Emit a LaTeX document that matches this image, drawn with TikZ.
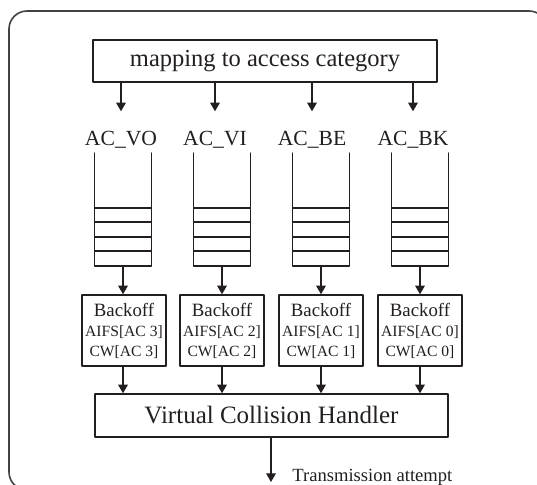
\documentclass[tikz,border=0pt]{standalone}
\usepackage{fontspec}
\setmainfont{Liberation Serif}
\usetikzlibrary{arrows.meta}
\definecolor{ink}{RGB}{35,31,32}
\tikzset{
	box/.style={draw=ink,line width=0.7pt,inner sep=0pt,text=ink},
	lbl/.style={inner sep=0pt,text=ink,font=\fontsize{10.8}{12}\selectfont},
	bobox/.style={box,minimum width=42pt,minimum height=35.5pt,align=center,font=\fontsize{7.8}{10}\selectfont},
	flow/.style={->,draw=ink,line width=0.6pt},
	queue/.style={draw=ink,line width=0.65pt}
}
\newcommand{\bohead}{{\fontsize{9.4}{10}\selectfont Backoff}}
\begin{document}
\begin{tikzpicture}[line cap=round,line join=round,>={Triangle[width=4.8pt,length=4.3pt]},x=0.5pt,y=-0.5pt]
				\useasboundingbox (0,0) rectangle (537,485);
				\clip (0,0) rectangle (537,485);
				\draw [ink!85,line width=0.8pt,rounded corners=9pt] (9,11) rectangle (547,490);
				\node[box,minimum width=172pt,minimum height=21pt,font=\fontsize{12.25}{14}\selectfont] (map) at (265,61) {mapping to access category};
				\node[lbl,anchor=base] (vo) at (121,146) {AC\_VO};
				\node[lbl,anchor=base] (vi) at (215,146) {AC\_VI};
				\node[lbl,anchor=base] (be) at (312,146) {AC\_BE};
				\node[lbl,anchor=base] (bk) at (413,146) {AC\_BK};
				\draw [flow,shorten >=10pt] (map.south -| vo.north) -- (vo.north);
				\draw [flow,shorten >=10pt] (map.south -| vi.north) -- (vi.north);
				\draw [flow,shorten >=10pt] (map.south -| be.north) -- (be.north);
				\draw [flow,shorten >=10pt] (map.south -| bk.north) -- (bk.north);
				\draw [queue] (94.5,153) -- (94.5,266) -- (151.5,266) -- (151.5,153);
				\draw [queue] (94.5,208) -- (151.5,208) (94.5,222) -- (151.5,222) (94.5,237) -- (151.5,237) (94.5,251) -- (151.5,251);
				\draw [queue] (193.5,153) -- (193.5,266) -- (250.5,266) -- (250.5,153);
				\draw [queue] (193.5,208) -- (250.5,208) (193.5,222) -- (250.5,222) (193.5,237) -- (250.5,237) (193.5,251) -- (250.5,251);
				\draw [queue] (292.5,153) -- (292.5,266) -- (349.5,266) -- (349.5,153);
				\draw [queue] (292.5,208) -- (349.5,208) (292.5,222) -- (349.5,222) (292.5,237) -- (349.5,237) (292.5,251) -- (349.5,251);
				\draw [queue] (391.5,153) -- (391.5,266) -- (448.5,266) -- (448.5,153);
				\draw [queue] (391.5,208) -- (448.5,208) (391.5,222) -- (448.5,222) (391.5,237) -- (448.5,237) (391.5,251) -- (448.5,251);
				\coordinate (qvo) at (123,266);
				\coordinate (qvi) at (222,266);
				\coordinate (qbe) at (321,266);
				\coordinate (qbk) at (420,266);
				\node[bobox] (bovo) at (124,330.5) {\bohead\\AIFS[AC 3]\\CW[AC 3]};
				\node[bobox] (bovi) at (222,330.5) {\bohead\\AIFS[AC 2]\\CW[AC 2]};
				\node[bobox] (bobe) at (321,330.5) {\bohead\\AIFS[AC 1]\\CW[AC 1]};
				\node[bobox] (bobk) at (420,330.5) {\bohead\\AIFS[AC 0]\\CW[AC 0]};
				\draw [flow] (qvo) -- (qvo |- bovo.north);
				\draw [flow] (qvi) -- (qvi |- bovi.north);
				\draw [flow] (qbe) -- (qbe |- bobe.north);
				\draw [flow] (qbk) -- (qbk |- bobk.north);
				\node[box,minimum width=176.5pt,minimum height=21.5pt,font=\fontsize{12.5}{14}\selectfont] (vch) at (271.5,415.5) {Virtual Collision Handler};
				\draw [flow] (qvo |- bovo.south) -- (qvo |- vch.north);
				\draw [flow] (qvi |- bovi.south) -- (qvi |- vch.north);
				\draw [flow] (qbe |- bobe.south) -- (qbe |- vch.north);
				\draw [flow] (qbk |- bobk.south) -- (qbk |- vch.north);
				\coordinate (tx) at (271,482);
				\draw [flow] (vch.south -| tx) -- (tx);
				\node[inner sep=0pt,anchor=base west,text=ink,font=\fontsize{9.3}{11}\selectfont] (att) at (292,482) {Transmission attempt};
			\end{tikzpicture}
\end{document}
